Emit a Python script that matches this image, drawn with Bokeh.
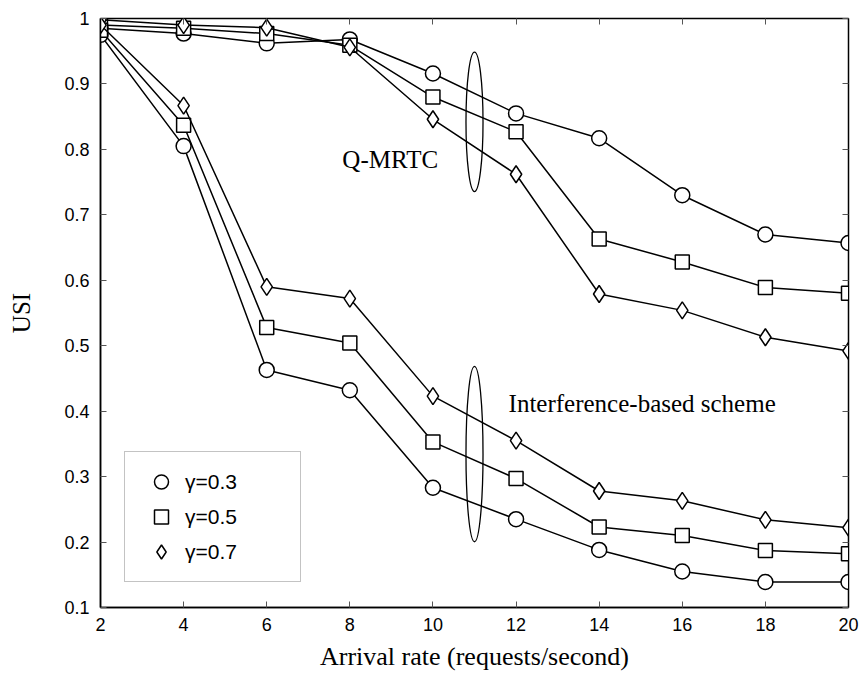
from bokeh.plotting import figure
from bokeh.models import (FixedTicker, LinearAxis, Range1d, Legend, LegendItem,
                          CustomLabelingPolicy)
from bokeh.core.properties import value
from bokeh.embed import file_html
from bokeh.resources import INLINE

# ---------------- data ----------------
arrival_rate = [2, 4, 6, 8, 10, 12, 14, 16, 18, 20]

qmrtc_g03 = [0.985, 0.977, 0.962, 0.968, 0.916, 0.855, 0.817, 0.730, 0.670, 0.657]
qmrtc_g05 = [0.990, 0.985, 0.977, 0.959, 0.880, 0.827, 0.663, 0.628, 0.589, 0.580]
qmrtc_g07 = [0.998, 0.990, 0.986, 0.956, 0.846, 0.762, 0.579, 0.554, 0.513, 0.492]

intf_g03 = [0.975, 0.805, 0.463, 0.432, 0.283, 0.235, 0.188, 0.155, 0.139, 0.139]
intf_g05 = [0.982, 0.837, 0.528, 0.504, 0.353, 0.297, 0.223, 0.210, 0.187, 0.182]
intf_g07 = [0.990, 0.867, 0.590, 0.572, 0.423, 0.355, 0.278, 0.263, 0.234, 0.222]

legend_labels = ["γ=0.3", "γ=0.5", "γ=0.7"]
x_ticks = [2, 4, 6, 8, 10, 12, 14, 16, 18, 20]
y_ticks = [0.1, 0.2, 0.3, 0.4, 0.5, 0.6, 0.7, 0.8, 0.9, 1.0]
x_title = "Arrival rate (requests/second)"
y_title = "USI"

# annotations
group_labels = ["Q-MRTC", "Interference-based scheme"]
group_label_x = [7.82, 11.82]
group_label_y = [0.784, 0.411]
ellipse_x = [11.0, 11.0]
ellipse_y = [0.842, 0.3345]
ellipse_w = [0.41, 0.41]
ellipse_h = [0.213, 0.268]

# ---------------- figure ----------------
p = figure(width=861, height=673, output_backend="svg", toolbar_location=None,
           x_range=Range1d(2, 20), y_range=Range1d(0.1, 1.0),
           min_border_left=100, min_border_right=13, min_border_top=18, min_border_bottom=64)
p.background_fill_color = "white"
p.border_fill_color = "white"
p.outline_line_color = "black"
p.outline_line_width = 1.5
p.xgrid.visible = False
p.ygrid.visible = False

sans = "Liberation Sans"
serif = "Liberation Serif"

for ax in (p.xaxis[0], p.yaxis[0]):
    ax.major_tick_in = 6
    ax.major_tick_out = 0
    ax.minor_tick_in = 0
    ax.minor_tick_out = 0
    ax.major_tick_line_color = "#555555"
    ax.axis_line_color = "black"
    ax.axis_line_width = 1.5
    ax.major_label_text_font = sans
    ax.major_label_text_font_size = "18px"
    ax.major_label_text_color = "black"
    ax.axis_label_text_font = serif
    ax.axis_label_text_font_size = "26px"
    ax.axis_label_text_font_style = "normal"
    ax.axis_label_text_color = "black"

p.xaxis[0].ticker = FixedTicker(ticks=x_ticks)
p.yaxis[0].ticker = FixedTicker(ticks=y_ticks)
p.yaxis[0].major_label_overrides = {1.0: "1"}
p.xaxis[0].axis_label = x_title
p.yaxis[0].axis_label = y_title
p.xaxis[0].major_label_standoff = 10
p.yaxis[0].major_label_standoff = 11
p.xaxis[0].axis_label_standoff = 8
p.yaxis[0].axis_label_standoff = 26
p.yaxis[0].axis_label_text_font_size = "25px"

# mirrored ticks on top and right (no labels drawn)
no_labels = """
for (const i of indices) { indices.unset(i) }
return indices
"""
top_ax = LinearAxis(ticker=FixedTicker(ticks=x_ticks),
                    major_label_policy=CustomLabelingPolicy(code=no_labels),
                    major_label_text_font_size="0px",
                    major_tick_in=6, major_tick_out=0, minor_tick_in=0, minor_tick_out=0,
                    major_tick_line_color="#555555", axis_line_color="black",
                    major_label_standoff=0)
right_ax = LinearAxis(ticker=FixedTicker(ticks=y_ticks),
                      major_label_policy=CustomLabelingPolicy(code=no_labels),
                      major_label_text_font_size="0px",
                      major_tick_in=6, major_tick_out=0, minor_tick_in=0, minor_tick_out=0,
                      major_tick_line_color="#555555", axis_line_color="black",
                      major_label_standoff=0)
p.add_layout(top_ax, "above")
p.add_layout(right_ax, "right")

# ---------------- series ----------------
markers = ["circle", "square", "diamond"]
sizes = [15, 14, 17]
groups = [
    [qmrtc_g03, qmrtc_g05, qmrtc_g07],
    [intf_g03, intf_g05, intf_g07],
]
legend_renderers = [None, None, None]
for gi, grp in enumerate(groups):
    for si, ys in enumerate(grp):
        p.line(arrival_rate, ys, line_color="black", line_width=1.5)
        r = p.scatter(arrival_rate, ys, marker=markers[si], size=sizes[si],
                      fill_color="white", line_color="black", line_width=1.5)
        if gi == 1:
            legend_renderers[si] = r

# ellipses
p.ellipse(x=ellipse_x, y=ellipse_y, width=ellipse_w, height=ellipse_h,
          fill_color=None, line_color="black", line_width=1.3)

# group labels
p.text(x=group_label_x, y=group_label_y, text=group_labels,
       text_font=value(serif), text_font_size="25px", text_color="black",
       text_align="left", text_baseline="middle")

# legend
legend = Legend(items=[LegendItem(label=legend_labels[i], renderers=[legend_renderers[i]])
                       for i in range(3)],
                location=(24, 25))
legend.label_text_font = sans
legend.label_text_font_size = "21px"
legend.label_text_color = "black"
legend.glyph_width = 48
legend.glyph_height = 35
legend.label_height = 35
legend.label_width = 103
legend.label_standoff = 0
legend.spacing = 0
legend.padding = 12
legend.margin = 0
legend.border_line_color = "#888888"
legend.border_line_width = 1.2
legend.background_fill_color = "white"
legend.background_fill_alpha = 1.0
p.add_layout(legend, "center")

open("out.html", "w").write(file_html(p, INLINE))
